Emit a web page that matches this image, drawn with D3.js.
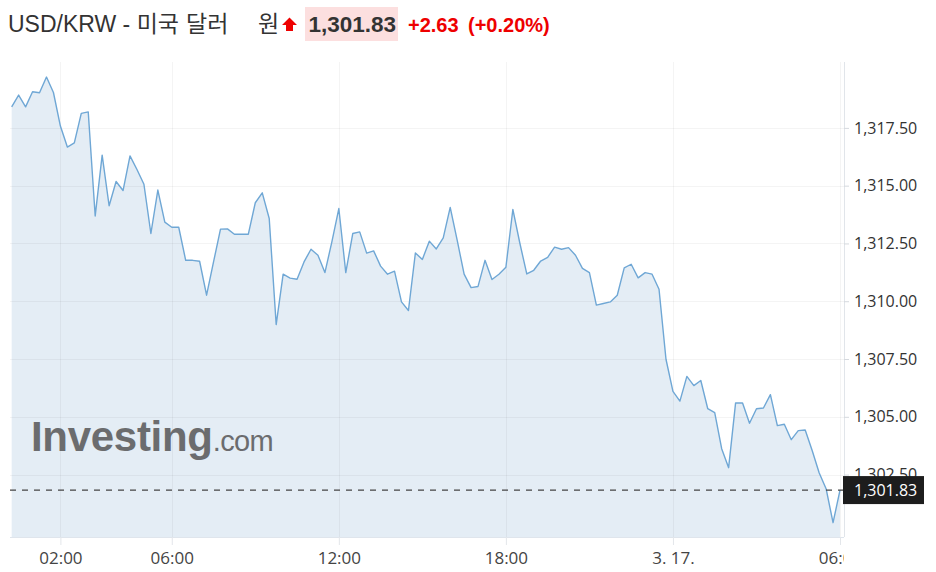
<!DOCTYPE html>
<html><head><meta charset="utf-8">
<script src="https://cdn.jsdelivr.net/npm/d3@7"></script>
<style>body{margin:0;background:#fff;} svg{display:block;}</style>
</head><body><svg id="c" width="936" height="572"></svg>
<script>
// ---- data ----
const titleParts = ["USD/KRW - 미국", "달러", "원"];
const lastPriceText = "1,301.83";
const changeText = "+2.63";
const changePctText = "(+0.20%)";
const lastValue = 1301.83;
const startTime = new Date(2023, 2, 16, 0, 15);
const stepMinutes = 15;
const values = [
  1318.41,1318.92,1318.41,1319.06,1319.02,1319.70,1319.03,1317.58,1316.67,1316.85,
  1318.13,1318.19,1313.69,1316.32,1314.13,1315.18,1314.79,1316.29,1315.70,1315.06,
  1312.93,1314.81,1313.42,1313.20,1313.20,1311.77,1311.77,1311.73,1310.26,1311.70,
  1313.12,1313.13,1312.90,1312.90,1312.90,1314.26,1314.69,1313.58,1308.99,1311.17,
  1311.00,1310.95,1311.70,1312.25,1311.99,1311.24,1312.57,1314.01,1311.24,1312.93,
  1313.00,1312.08,1312.18,1311.52,1311.17,1311.30,1309.97,1309.60,1312.09,1311.81,
  1312.60,1312.26,1312.74,1314.06,1312.64,1311.17,1310.59,1310.64,1311.77,1310.94,
  1311.17,1311.47,1313.97,1312.52,1311.18,1311.34,1311.74,1311.90,1312.34,1312.25,
  1312.32,1311.99,1311.42,1311.24,1309.83,1309.90,1309.97,1310.26,1311.44,1311.60,
  1311.01,1311.24,1311.17,1310.52,1307.49,1306.10,1305.68,1306.75,1306.35,1306.57,
  1305.35,1305.18,1303.62,1302.80,1305.60,1305.60,1304.72,1305.35,1305.38,1305.96,
  1304.62,1304.68,1304.01,1304.40,1304.43,1303.54,1302.58,1301.89,1300.42,1301.83
];
const times = values.map((_, i) => new Date(startTime.getTime() + i * stepMinutes * 60000));
const yTicks = [1302.5, 1305, 1307.5, 1310, 1312.5, 1315, 1317.5];
const xTicks = [
  new Date(2023, 2, 16, 2), new Date(2023, 2, 16, 6), new Date(2023, 2, 16, 12),
  new Date(2023, 2, 16, 18), new Date(2023, 2, 17, 0), new Date(2023, 2, 17, 6)
];
const xTickLabels = ["02:00", "06:00", "12:00", "18:00", "3. 17.", "06:00"];

// ---- layout ----
const L = 10, R = 844, T = 62, B = 537;
const svg = d3.select("#c");
const x = d3.scaleTime()
  .domain([new Date(2023, 2, 16, 0, 11, 24), new Date(2023, 2, 17, 6, 8, 36)])
  .range([L, R]);
const y = d3.scaleLinear().domain([1299.8, 1320.35]).range([B, T]);

const data = values.map((v, i) => ({t: times[i], v}));

// area
svg.append("path").datum(data)
  .attr("fill", "#e4edf5")
  .attr("d", d3.area().x(d => x(d.t)).y0(B).y1(d => y(d.v)));

// grid
const grid = svg.append("g").attr("stroke", "rgba(0,0,0,0.045)").attr("stroke-width", 1);
grid.selectAll("line.h").data(yTicks).join("line")
  .attr("x1", L).attr("x2", R)
  .attr("y1", d => Math.round(y(d)) + 0.5).attr("y2", d => Math.round(y(d)) + 0.5);
grid.selectAll("line.v").data(xTicks).join("line")
  .attr("y1", T).attr("y2", B)
  .attr("x1", d => Math.round(x(d)) + 0.5).attr("x2", d => Math.round(x(d)) + 0.5);

// line
svg.append("path").datum(data)
  .attr("fill", "none").attr("stroke", "#6fa7d5").attr("stroke-width", 1.4)
  .attr("stroke-linejoin", "round")
  .attr("d", d3.line().x(d => x(d.t)).y(d => y(d.v)));

// watermark
const wm = svg.append("text").attr("x", 31).attr("y", 450.5)
  .attr("font-family", "'Liberation Sans', Arial, sans-serif")
  .attr("fill", "#6b6c6e");
wm.append("tspan").attr("font-size", 42).attr("font-weight", "bold")
  .attr("letter-spacing", -0.3).text("Investing");
wm.append("tspan").attr("font-size", 29).attr("letter-spacing", -0.6).text(".com");

// x axis (clipped at right edge)
svg.append("clipPath").attr("id", "xclip").append("rect")
  .attr("x", 0).attr("y", 0).attr("width", R).attr("height", 572);
const xAxis = svg.append("g").attr("transform", `translate(0,${B})`)
  .attr("clip-path", "url(#xclip)")
  .call(d3.axisBottom(x).tickValues(xTicks).tickFormat((d, i) => xTickLabels[i])
    .tickSize(8).tickPadding(7));
xAxis.select(".domain").attr("stroke", "#dfe5ec").attr("d", `M${L},0.5H${R}`);
xAxis.selectAll(".tick line").attr("stroke", "#e3e6ea");
xAxis.selectAll(".tick text").attr("fill", "#444")
  .attr("font-family", "'Open Sans', sans-serif").attr("font-size", 17);

// y axis
const yAxis = svg.append("g").attr("transform", `translate(${R},0)`)
  .call(d3.axisRight(y).tickValues(yTicks).tickFormat(d3.format(",.2f"))
    .tickSize(5).tickPadding(5));
yAxis.select(".domain").attr("stroke", "#e1e5ea").attr("d", `M0.5,${T}V${B}`);
yAxis.selectAll(".tick line").attr("stroke", "#d5d9de");
yAxis.selectAll(".tick text").attr("fill", "#333")
  .attr("font-family", "'Open Sans', sans-serif").attr("font-size", 16);

// last price dashed line + label
svg.append("line")
  .attr("x1", L).attr("x2", R - 1)
  .attr("y1", y(lastValue)).attr("y2", y(lastValue))
  .attr("stroke", "#444").attr("stroke-width", 1.2).attr("stroke-dasharray", "6,6");
svg.append("rect").attr("x", R - 1).attr("y", y(lastValue) - 14)
  .attr("width", 81).attr("height", 28).attr("fill", "#1d1d1d");
svg.append("text").attr("x", R + 10).attr("y", y(lastValue) + 6)
  .attr("fill", "#fff").attr("font-family", "'Open Sans', sans-serif")
  .attr("font-size", 16).text(lastPriceText);

// header
const hf = "'Liberation Sans', Arial, 'Noto Sans CJK KR', sans-serif";
const title = svg.append("text").attr("y", 32)
  .attr("font-family", hf).attr("font-size", 23).attr("fill", "#333");
const titleX = [8, 186, 258];
title.selectAll("tspan").data(titleParts).join("tspan")
  .attr("x", (d, i) => titleX[i]).text(d => d);
svg.append("path")
  .attr("d", "M289.5,17.5L297,25L293,25L293,31L286,31L286,25L282,25Z")
  .attr("fill", "#ee0000");
svg.append("rect").attr("x", 305).attr("y", 7).attr("width", 93).attr("height", 34)
  .attr("fill", "#fcdfdf");
svg.append("text").attr("x", 308.5).attr("y", 32)
  .attr("font-family", hf).attr("font-size", 22.5).attr("font-weight", "bold")
  .attr("fill", "#333").text(lastPriceText);
svg.append("text").attr("x", 408).attr("y", 32)
  .attr("font-family", hf).attr("font-size", 20).attr("font-weight", "bold")
  .attr("fill", "#ee0000").text(changeText);
svg.append("text").attr("x", 468).attr("y", 32)
  .attr("font-family", hf).attr("font-size", 20).attr("font-weight", "bold")
  .attr("fill", "#ee0000").text(changePctText);
</script></body></html>
